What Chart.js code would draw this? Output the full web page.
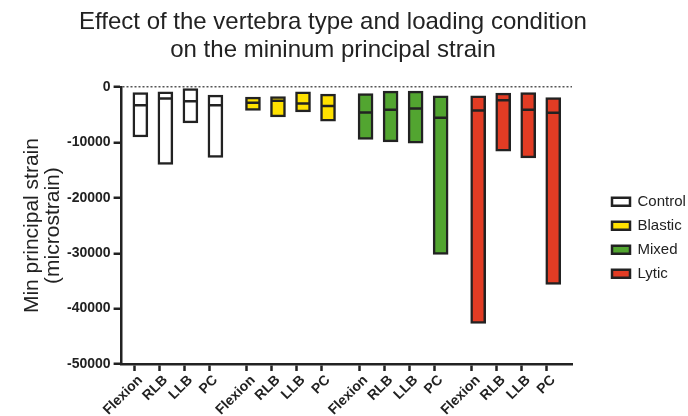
<!DOCTYPE html>
<html>
<head>
<meta charset="utf-8">
<script src="https://cdn.jsdelivr.net/npm/chart.js@4"></script>
<style>
  body { margin: 0; background: #fff; }
  #wrap { width: 688px; height: 416px; }
</style>
</head>
<body>
<div id="wrap"><canvas id="c"></canvas></div>
<script>
const groups = ["Control", "Blastic", "Mixed", "Lytic"];
const conditions = ["Flexion", "RLB", "LLB", "PC"];
const groupColors = ["#ffffff", "#ffe100", "#52a530", "#e23c24"];

// min principal strain (microstrain): top / median / bottom of each bar
const controlTop = [-960, -850, -250, -1440];
const controlMedian = [-3250, -2050, -2530, -3250];
const controlBottom = [-9000, -13950, -6440, -12700];
const blasticTop = [-1800, -1680, -850, -1260];
const blasticMedian = [-2830, -2470, -2950, -3400];
const blasticBottom = [-4200, -5360, -4450, -6140];
const mixedTop = [-1140, -720, -720, -1570];
const mixedMedian = [-4570, -4100, -3850, -5540];
const mixedBottom = [-9440, -9870, -10100, -30200];
const lyticTop = [-1570, -1080, -960, -1860];
const lyticMedian = [-4210, -2350, -4100, -4630];
const lyticBottom = [-42650, -11550, -12760, -35610];

const tops = [controlTop, blasticTop, mixedTop, lyticTop];
const medians = [controlMedian, blasticMedian, mixedMedian, lyticMedian];
const bottoms = [controlBottom, blasticBottom, mixedBottom, lyticBottom];

// half-step slots: one blank between bars, two between groups, one at each end
let labels = [], ranges = [], mids = [], fills = [];
function blank() {
    labels.push("");
    ranges.push(null);
    mids.push(null);
    fills.push("transparent");
}
blank();
groups.forEach((g, gi) => {
    if (gi > 0) { blank(); blank(); }
    conditions.forEach((c, ci) => {
        if (ci > 0) blank();
        labels.push(c);
        ranges.push([tops[gi][ci], bottoms[gi][ci]]);
        mids.push(medians[gi][ci]);
        fills.push(groupColors[gi]);
    });
});
blank();

const ink = "#222222";
const font = "'Liberation Sans', Arial, sans-serif";

const shiftTitle = {
    id: "shiftTitle",
    afterLayout(chart) {
        // title in the original sits left of the canvas centre
        if (chart.titleBlock) {
            chart.titleBlock.left -= 22;
            chart.titleBlock.right -= 22;
        }
    }
};

new Chart(document.getElementById("c"), {
    data: {
        labels: labels,
        datasets: [
            {
                type: "line",
                data: mids,
                showLine: false,
                pointStyle: "line",
                pointRadius: 6.5,
                pointHoverRadius: 6.5,
                pointBorderWidth: 2.5,
                pointBorderColor: ink,
                order: 0
            },
            {
                type: "bar",
                data: ranges,
                backgroundColor: fills,
                borderColor: ink,
                borderWidth: 2.5,
                borderSkipped: false,
                barThickness: 15,
                order: 1
            }
        ]
    },
    options: {
        responsive: true,
        maintainAspectRatio: false,
        animation: false,
        layout: { padding: { left: 22 } },
        scales: {
            x: {
                type: "category",
                grid: {
                    drawOnChartArea: false,
                    drawTicks: true,
                    tickLength: 7,
                    tickWidth: 2.5,
                    tickColor: (ctx) => labels[ctx.index] ? ink : "transparent"
                },
                border: { display: true, color: ink, width: 2.5 },
                ticks: {
                    autoSkip: false,
                    maxRotation: 45,
                    minRotation: 45,
                    padding: 1,
                    color: ink,
                    font: { family: font, size: 14, weight: "bold" }
                },
                afterFit: (scale) => { scale.height = 52; }
            },
            y: {
                min: -50000,
                max: 0,
                ticks: {
                    stepSize: 10000,
                    color: ink,
                    padding: 3,
                    callback: (v) => String(v),
                    font: { family: font, size: 14, weight: "bold" }
                },
                grid: {
                    drawOnChartArea: true,
                    tickLength: 8,
                    tickWidth: 2.5,
                    tickColor: ink,
                    lineWidth: 1.5,
                    color: (ctx) => ctx.tick && ctx.tick.value === 0 ? "#555" : "transparent"
                },
                border: { display: true, color: ink, width: 2.5, dash: [2, 2] },
                title: {
                    display: true,
                    text: ["Min principal strain", "(microstrain)"],
                    color: ink,
                    padding: { top: 0, bottom: 0 },
                    font: { family: font, size: 21, lineHeight: 1.0 }
                }
            },
            gap: {
                position: "right",
                display: true,
                grid: { display: false },
                border: { display: false },
                ticks: { display: false },
                afterFit: (scale) => { scale.width = 31; }
            }
        },
        plugins: {
            title: {
                display: true,
                text: ["Effect of the vertebra type and loading condition", "on the mininum principal strain"],
                color: ink,
                padding: { top: 8, bottom: 23 },
                font: { family: font, size: 24, weight: "normal", lineHeight: 1.17 }
            },
            legend: {
                position: "right",
                fullSize: false,
                maxWidth: 85,
                onClick: null,
                title: { display: true, text: " ", padding: 5, font: { size: 12 } },
                labels: {
                    boxWidth: 18,
                    boxHeight: 8,
                    padding: 9,
                    color: ink,
                    font: { family: font, size: 15 },
                    generateLabels: () => groups.map((g, i) => ({
                        text: g,
                        fillStyle: groupColors[i],
                        strokeStyle: ink,
                        fontColor: ink,
                        lineWidth: 2.5,
                        hidden: false,
                        datasetIndex: 1
                    }))
                }
            },
            tooltip: { enabled: false }
        }
    },
    plugins: [shiftTitle]
});
</script>
</body>
</html>
